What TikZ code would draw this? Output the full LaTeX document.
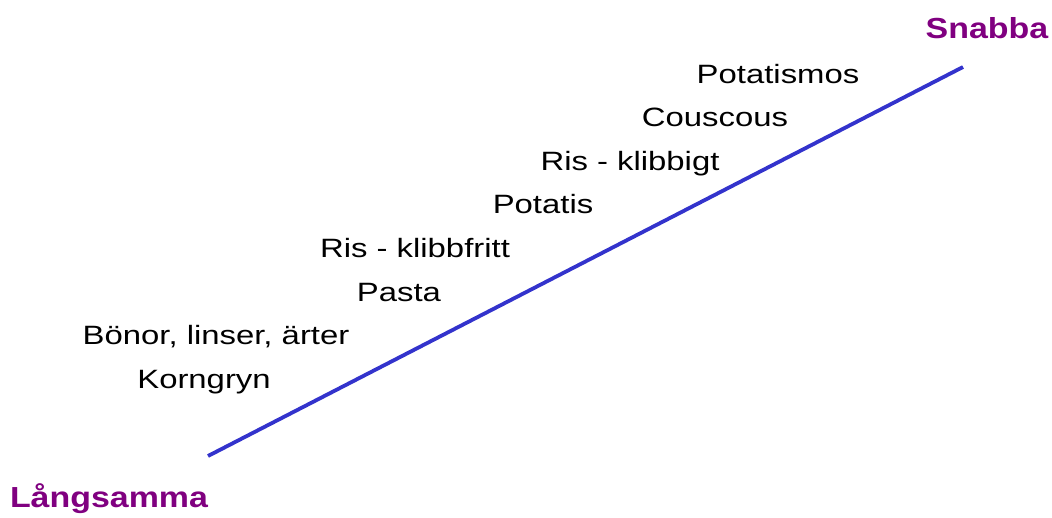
\documentclass[tikz,border=0pt]{standalone}
\usepackage{fontspec}
\setmainfont{Liberation Sans}
\definecolor{lblpurple}{RGB}{128,0,128}
\definecolor{lineblue}{RGB}{51,51,204}
\tikzset{
  food/.style={anchor=base, inner sep=0pt, font=\fontsize{26.5}{30}\selectfont, text=black},
  endlbl/.style={anchor=base, inner sep=0pt, font=\fontsize{29}{32}\selectfont\bfseries, text=lblpurple},
  scaleline/.style={draw=lineblue, line width=3.8pt}
}
\newcommand{\wide}[1]{\scalebox{1.24}[1]{#1}}
\newcommand{\widebold}[1]{\scalebox{1.17}[1]{#1}}
\begin{document}
\begin{tikzpicture}[x=1pt,y=-1pt]
\useasboundingbox (0,0) rectangle (1052,517);
\coordinate (lo) at (208,456);
\coordinate (hi) at (963,67);
\draw[scaleline] (lo) -- (hi);
\node[endlbl] (snabba) at (987,38) {\widebold{Snabba}};
\node[endlbl] (langsamma) at (109,507) {\widebold{Långsamma}};
\node[food] (f1) at (778,83) {\wide{Potatismos}};
\node[food] (f2) at (715,126.6) {\wide{Couscous}};
\node[food] (f3) at (630,170.2) {\wide{Ris - klibbigt}};
\node[food] (f4) at (543,213.8) {\wide{Potatis}};
\node[food] (f5) at (415,257.4) {\wide{Ris - klibbfritt}};
\node[food] (f6) at (399,301) {\wide{Pasta}};
\node[food] (f7) at (216,344.6) {\wide{Bönor, linser, ärter}};
\node[food] (f8) at (204,388.2) {\wide{Korngryn}};
\end{tikzpicture}
\end{document}
